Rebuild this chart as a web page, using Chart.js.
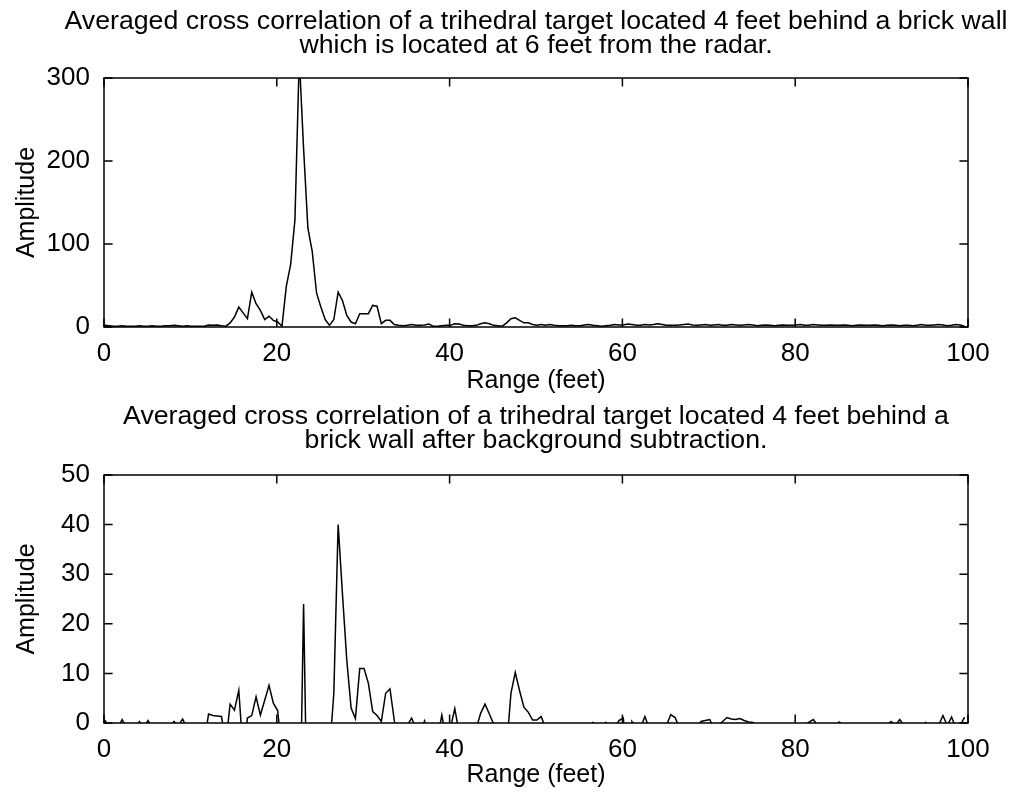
<!DOCTYPE html>
<html>
<head>
<meta charset="utf-8">
<script src="https://cdn.jsdelivr.net/npm/chart.js@4.4.1/dist/chart.umd.min.js"></script>
<style>
  body { margin: 0; background: #fff; }
  .plot { position: absolute; left: 0; width: 1011px; }
</style>
</head>
<body>
<div class="plot" style="top:0;height:398px"><canvas id="topChart" width="1011" height="398"></canvas></div>
<div class="plot" style="top:398px;height:399px"><canvas id="bottomChart" width="1011" height="399"></canvas></div>
<script>
"use strict";

// samples every half foot, first one at 0.1 ft
const rangeStart = 0.1;
const rangeStep = 0.5;

const topTitle = [
  "Averaged cross correlation of a trihedral target located 4 feet behind a brick wall",
  "which is located at 6 feet from the radar.",
];
const bottomTitle = [
  "Averaged cross correlation of a trihedral target located 4 feet behind a",
  "brick wall after background subtraction.",
];

const xTicks = [0, 20, 40, 60, 80, 100];
const topYTicks = [0, 100, 200, 300];
const bottomYTicks = [0, 10, 20, 30, 40, 50];

const amplitudeTop = [
  2, 1.5, 1, 1, 1.5, 1, 1, 1, 1.5, 1,
  1, 1.5, 1, 1, 1.5, 1.5, 2, 1.5, 1, 1.5,
  1, 1, 1, 1, 2.5, 2, 2.5, 1.5, 1, 5,
  12, 24, 17, 10, 42, 28, 20, 9, 13, 8,
  6, 1, 49, 75, 129, 325, 215, 119, 91, 41,
  24, 9, 2, 9, 42, 32, 14, 6, 4, 16,
  16, 16, 26, 25, 4, 8, 8, 3, 2, 1.5,
  2, 3, 2, 2, 2.5, 3.5, 1, 1, 1.5, 2,
  2, 4, 3.5, 2, 1.5, 1.5, 2, 4, 5, 4,
  2, 1.5, 1, 5, 10, 11, 8, 5, 5, 3,
  2, 3, 2, 3, 2, 1.5, 1.5, 1.5, 2, 1.5,
  1.5, 2.5, 3, 2, 1.5, 1, 1.5, 2, 3, 2.5,
  2.5, 3.5, 3, 2, 2, 3, 2.5, 3, 4, 3,
  2, 2, 2, 2.5, 3, 3.5, 2.5, 2, 2.5, 3,
  2, 2.5, 3, 2, 2, 3, 2.5, 2, 2.5, 3,
  2.5, 1.5, 2, 2.5, 2, 1.5, 2, 2.5, 2, 2,
  2.5, 3, 2, 2, 3, 2.5, 2, 2, 2.5, 2,
  2, 2.5, 2, 1.5, 2, 2.5, 2, 2, 2.5, 2,
  1.5, 2, 2.5, 2, 1.5, 2, 2, 1.5, 2, 3,
  2, 2, 2.5, 3, 2.5, 1.5, 2, 3, 2.5, 1,
];

const amplitudeBottom = [
  0.6, -1, -2, -1, 0.7, -1, -2, -1, 0.3, -1,
  0.5, -1, -2, -3, -2, -1, 0.3, -0.5, 0.8, -1,
  -2, -3, -2, -4, 1.8, 1.5, 1.4, 1.3, -4, 3.8,
  2.6, 6.6, -6, 1.0, 1.5, 5.3, 1.6, 4.6, 7.6, 4.0,
  2.5, -6, -8, -10, -12, -28, 24, -28, -15, -10,
  -8, -7, -6, 6, 40, 26, 12.7, 3, 0.9, 11,
  11, 8, 2.3, 1.5, 0.3, 6, 6.9, 0.5, -5, -3,
  -0.5, 1, -1, -2, 0.4, -3, -4, -3, 1.6, -3,
  -1, 2.9, -2, -4, -5, -4, -1, 2.0, 3.8, 1.8,
  -0.2, -3, -5, -5, 6, 10.2, 6.5, 3.2, 2.2, 0.6,
  0.6, 1.3, -1, -2, -3, -3, -2, -3, -2, -2,
  -3, -2, -1, 0.1, -1, -2, 0.1, -1, -1, 0.5,
  1, -8, 0.3, -1, -1, 1.3, -1, -2, -2, -1,
  -0.5, 1.7, 1.1, -1, -2, -1, -1, -1, 0.3, 0.5,
  0.7, -1, -0.5, 0.3, 1.1, 0.8, 0.7, 0.9, 0.5, 0.2,
  0.1, -0.5, -1, -2, -1, -1, -2, -1, -1, -2,
  -1, -1, -0.5, 0.2, 0.7, -0.5, -1, -2, -1, -0.5,
  0.2, -0.5, -1, -2, -1, -2, -1, -1, -2, -1,
  -1, -0.5, 0.3, -0.5, 0.7, -0.5, -1, -2, -1, -1,
  0.1, -1, -1, -0.5, 1.5, -0.5, 1.2, -1, -0.5, 1.2,
];

const FONT = "'Liberation Sans', Arial, Helvetica, sans-serif";

function toPoints(values) {
  return values.map((v, i) => ({ x: rangeStart + i * rangeStep, y: v }));
}

// matlab style: full box with ticks pointing inwards on all four sides
const boxTicks = {
  id: "boxTicks",
  afterDraw(chart) {
    const { ctx, chartArea: a, scales } = chart;
    const len = 8.6;
    ctx.save();
    ctx.strokeStyle = "#000";
    ctx.lineWidth = 1.5;
    ctx.strokeRect(a.left, a.top, a.right - a.left, a.bottom - a.top);
    ctx.beginPath();
    scales.x.ticks.forEach((t) => {
      const px = scales.x.getPixelForValue(t.value);
      ctx.moveTo(px, a.bottom);
      ctx.lineTo(px, a.bottom - len);
      ctx.moveTo(px, a.top);
      ctx.lineTo(px, a.top + len);
    });
    scales.y.ticks.forEach((t) => {
      const py = scales.y.getPixelForValue(t.value);
      ctx.moveTo(a.left, py);
      ctx.lineTo(a.left + len, py);
      ctx.moveTo(a.right, py);
      ctx.lineTo(a.right - len, py);
    });
    ctx.stroke();
    ctx.restore();
  },
};

// title centred over the axes box, not the whole canvas
const axesTitle = {
  id: "axesTitle",
  afterDraw(chart, args, opts) {
    const { ctx, chartArea: a } = chart;
    ctx.save();
    ctx.fillStyle = "#000";
    ctx.font = opts.size + "px " + FONT;
    ctx.textAlign = "center";
    ctx.textBaseline = "middle";
    const cx = (a.left + a.right) / 2;
    opts.lines.forEach((line, i) => {
      ctx.fillText(line, cx, opts.firstY + i * opts.spacing);
    });
    ctx.restore();
  },
};

function makeChart(canvasId, title, values, yTicks, opts) {
  const ctx = document.getElementById(canvasId).getContext("2d");
  return new Chart(ctx, {
    type: "line",
    data: {
      datasets: [
        {
          data: toPoints(values),
          borderColor: "#000",
          borderWidth: 1.5,
          pointRadius: 0,
          tension: 0,
          fill: false,
        },
      ],
    },
    options: {
      responsive: false,
      animation: false,
      layout: { padding: { left: 0, right: 43, top: opts.areaTop, bottom: 0 } },
      plugins: {
        legend: { display: false },
        tooltip: { enabled: false },
        title: { display: false },
        axesTitle: { lines: title, size: 26.7, firstY: opts.titleY, spacing: 24.3 },
      },
      scales: {
        x: {
          type: "linear",
          min: 0,
          max: 100,
          afterBuildTicks: (s) => { s.ticks = xTicks.map((v) => ({ value: v })); },
          afterFit: (s) => { s.height = opts.xHeight; },
          grid: { display: false, drawTicks: false },
          border: { display: false },
          ticks: { color: "#000", font: { family: FONT, size: 26 }, padding: 11, maxRotation: 0 },
          title: {
            display: true,
            text: "Range (feet)",
            color: "#000",
            font: { family: FONT, size: 25 },
            padding: { top: 0, bottom: opts.xTitleBottom },
          },
        },
        y: {
          min: 0,
          max: yTicks[yTicks.length - 1],
          afterBuildTicks: (s) => { s.ticks = yTicks.map((v) => ({ value: v })); },
          afterFit: (s) => { s.width = 104; },
          grid: { display: false, drawTicks: false },
          border: { display: false },
          ticks: { color: "#000", font: { family: FONT, size: 26 }, padding: 14 },
          title: {
            display: true,
            text: "Amplitude",
            color: "#000",
            font: { family: FONT, size: 25 },
            padding: { top: 12, bottom: 0 },
          },
        },
      },
    },
    plugins: [boxTicks, axesTitle],
  });
}

makeChart("topChart", topTitle, amplitudeTop, topYTicks, {
  areaTop: 78,
  titleY: 21.5,
  xHeight: 71,
  xTitleBottom: 2,
});

makeChart("bottomChart", bottomTitle, amplitudeBottom, bottomYTicks, {
  areaTop: 77,
  titleY: 18.5,
  xHeight: 74,
  xTitleBottom: 7,
});
</script>
</body>
</html>
